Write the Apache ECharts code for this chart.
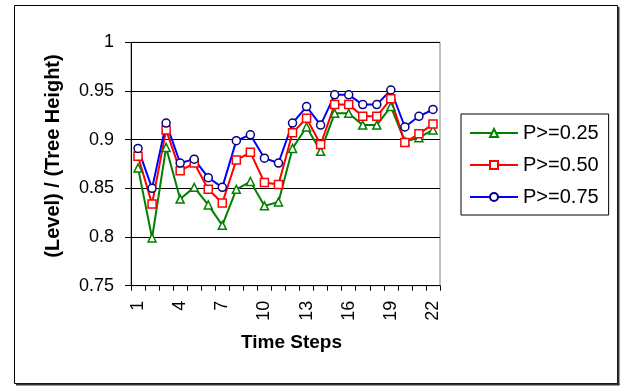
<!DOCTYPE html>
<html>
<head>
<meta charset="utf-8">
<script src="https://cdn.jsdelivr.net/npm/echarts@6/dist/echarts.min.js"></script>
<style>
  html, body { margin: 0; padding: 0; background: #fff; }
  #chart { width: 621px; height: 388px; }
</style>
</head>
<body>
<div id="chart"></div>
<script>
// Time steps 1..22
const timeSteps = ['1','2','3','4','5','6','7','8','9','10','11','12','13','14','15','16','17','18','19','20','21','22'];

// Normalised level per time step for each probability threshold
const p025 = [0.871, 0.799, 0.892, 0.839, 0.851, 0.833, 0.812, 0.849, 0.857, 0.832, 0.836,
              0.891, 0.913, 0.888, 0.927, 0.927, 0.915, 0.915, 0.934, 0.898, 0.902, 0.910];
const p050 = [0.883, 0.834, 0.910, 0.868, 0.876, 0.849, 0.835, 0.879, 0.887, 0.856, 0.854,
              0.907, 0.922, 0.895, 0.936, 0.936, 0.924, 0.924, 0.942, 0.897, 0.906, 0.916];
const p075 = [0.891, 0.850, 0.917, 0.876, 0.880, 0.861, 0.851, 0.899, 0.905, 0.881, 0.876,
              0.917, 0.934, 0.915, 0.946, 0.946, 0.936, 0.936, 0.951, 0.913, 0.924, 0.931];

const seriesNames = ['P>=0.25', 'P>=0.50', 'P>=0.75'];

const FONT = '"Liberation Sans", Arial, sans-serif';

const chart = echarts.init(document.getElementById('chart'), null, { renderer: 'canvas' });

function lineSeries(name, data, lineColor, markerColor, symbol) {
  return {
    name: name,
    type: 'line',
    data: data,
    symbol: symbol,
    symbolSize: 8,
    showAllSymbol: true,
    animation: false,
    lineStyle: { color: lineColor, width: 2 },
    itemStyle: { color: '#ffffff', borderColor: markerColor, borderWidth: 1.5 },
    emphasis: { disabled: true }
  };
}

chart.setOption({
  backgroundColor: '#ffffff',
  animation: false,
  grid: {
    left: 131, right: 181, top: 42.3, bottom: 102.3,
    show: true, borderColor: '#808080', borderWidth: 1, backgroundColor: 'transparent'
  },
  legend: {
    orient: 'vertical',
    left: 461, top: 114,
    padding: [8, 10, 7, 8],
    itemGap: 10,
    itemWidth: 48,
    itemHeight: 10,
    borderColor: '#000000',
    borderWidth: 1,
    backgroundColor: '#ffffff',
    data: seriesNames,
    textStyle: { fontFamily: FONT, fontSize: 20, color: '#000000', lineHeight: 22 }
  },
  xAxis: {
    type: 'category',
    data: timeSteps,
    boundaryGap: true,
    name: 'Time Steps',
    nameLocation: 'middle',
    nameGap: 48,
    nameTextStyle: { fontFamily: FONT, fontSize: 19, fontWeight: 'bold', color: '#000000', padding: [0, 0, 0, 12] },
    axisLine: { lineStyle: { color: '#000000', width: 1 } },
    axisTick: { show: true, interval: 0, length: 5, lineStyle: { color: '#000000' } },
    axisLabel: {
      interval: 2, rotate: 90, margin: 15,
      fontFamily: FONT, fontSize: 18, color: '#000000'
    },
    splitLine: { show: false }
  },
  yAxis: {
    type: 'value',
    min: 0.75, max: 1, interval: 0.05,
    name: '(Level) / (Tree Height)',
    nameLocation: 'middle',
    nameGap: 68,
    nameTextStyle: { fontFamily: FONT, fontSize: 20, fontWeight: 'bold', color: '#000000', padding: [0, 0, 0, 16] },
    axisLine: { show: true, lineStyle: { color: '#000000', width: 1 } },
    axisTick: { show: true, length: 6, lineStyle: { color: '#000000' } },
    axisLabel: {
      margin: 17, fontFamily: FONT, fontSize: 18, color: '#000000',
      formatter: v => String(parseFloat(v.toFixed(2)))
    },
    splitLine: { show: true, lineStyle: { color: '#000000', width: 1 } }
  },
  series: [
    lineSeries(seriesNames[0], p025, '#008000', '#008000', 'triangle'),
    lineSeries(seriesNames[1], p050, '#ff0000', '#ff0000', 'rect'),
    lineSeries(seriesNames[2], p075, '#0000ff', '#000080', 'circle')
  ],
  graphic: [
    // chart-area frame with a dark drop edge on the right and bottom
    { type: 'rect', silent: true, z: -1,
      shape: { x: 14.5, y: 5.5, width: 603, height: 378 },
      style: { fill: 'none', stroke: '#000000', lineWidth: 1 } },
    { type: 'line', silent: true, z: -1,
      shape: { x1: 618.5, y1: 7, x2: 618.5, y2: 385 },
      style: { stroke: '#333333', lineWidth: 2 } },
    { type: 'line', silent: true, z: -1,
      shape: { x1: 16, y1: 384.5, x2: 619.5, y2: 384.5 },
      style: { stroke: '#333333', lineWidth: 2 } }
  ]
});
</script>
</body>
</html>
